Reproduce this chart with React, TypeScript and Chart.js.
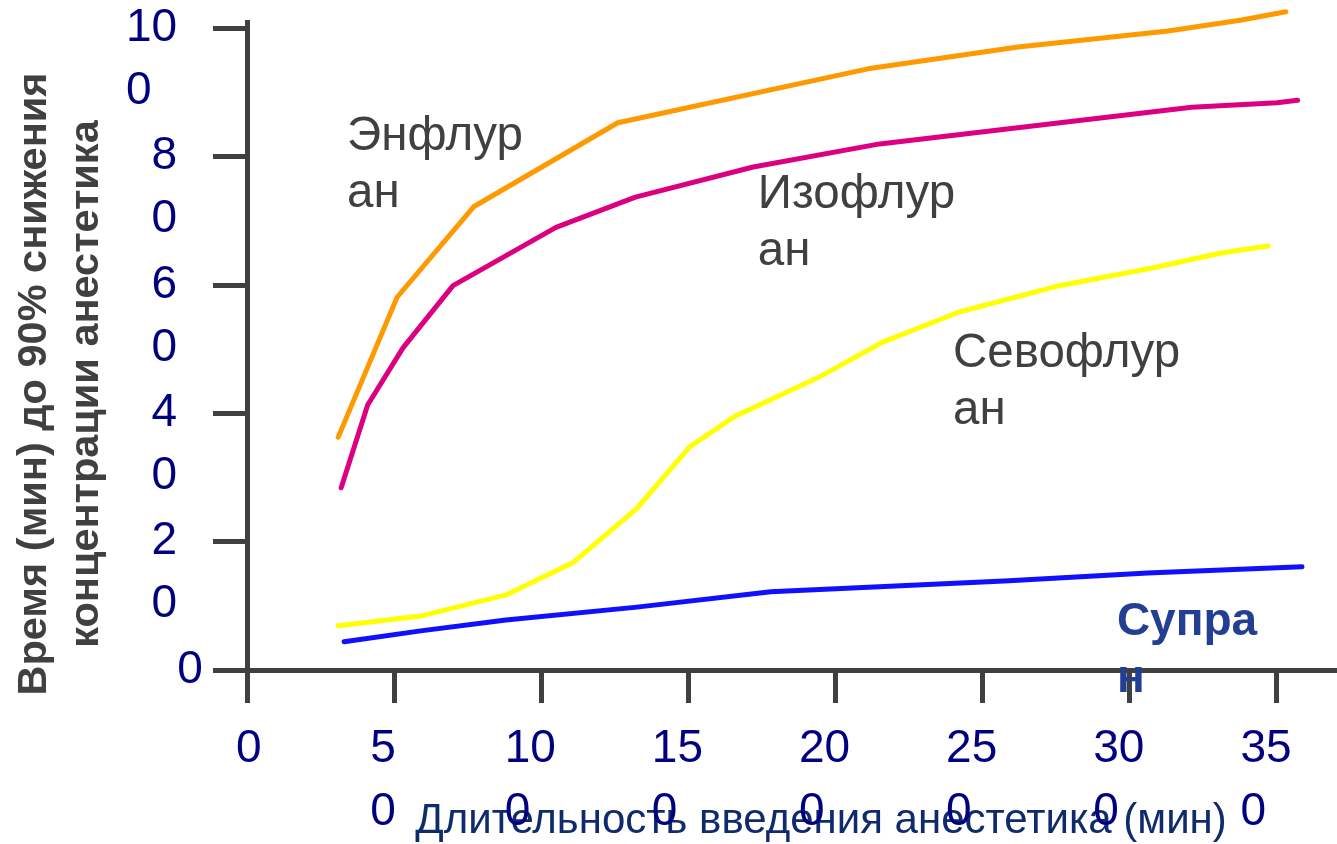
import React, { useEffect, useRef } from "react";
import { Chart, registerables } from "chart.js";

Chart.register(...registerables);

// ---------- data ----------
const xTickValues = [0, 50, 100, 150, 200, 250, 300, 350];
const xTickLabels = ["0", "50", "100", "150", "200", "250", "300", "350"];
const yTickValues = [0, 20, 40, 60, 80, 100];
const yTickLabels = ["0", "20", "40", "60", "80", "100"];

const enfluraneX = [31, 51, 77, 126, 211, 262, 313, 338, 353];
const enfluraneY = [36.3, 58.1, 72.2, 85.3, 93.7, 97.1, 99.6, 101.3, 102.6];

const isofluraneX = [32, 41, 53, 70, 105, 132, 172, 215, 321, 350, 357];
const isofluraneY = [28.4, 41.3, 50.2, 59.9, 69.0, 73.7, 78.4, 82.0, 87.7, 88.4, 88.8];

const sevofluraneX = [31, 59, 88, 111, 132.5, 150.5, 166, 195, 216, 242, 276, 308, 331, 347];
const sevofluraneY = [6.9, 8.4, 11.7, 16.8, 25.2, 34.8, 39.6, 45.8, 51.1, 55.8, 59.9, 62.7, 65.0, 66.1];

const supraneX = [33, 59, 88, 132.5, 178, 259, 306, 358.5];
const supraneY = [4.4, 6.1, 7.8, 9.8, 12.2, 13.9, 15.1, 16.1];

const seriesNames = ["Энфлуран", "Изофлуран", "Севофлуран", "Супран"];
// wrapped as on the slide
const seriesLabelLines = [["Энфлур", "ан"], ["Изофлур", "ан"], ["Севофлур", "ан"], ["Супра", "н"]];
const seriesLabelX = [34, 173.6, 239.9, 295.6];
const seriesLabelY = [81.0, 72.0, 47.2, 5.5];

const xAxisTitle = "Длительность введения анестетика (мин)";
const yAxisTitleLines = ["Время (мин) до 90% снижения", "концентрации анестетика"];

// ---------- styles ----------
const FONT = "'Liberation Sans', Arial, sans-serif";
const AXIS_COLOR = "#404040";
const TICK_COLOR = "#000080";
const SERIES_COLORS = ["#FF9900", "#DC0080", "#FFFF00", "#1010FF"];
const LABEL_COLORS = ["#404040", "#404040", "#404040", "#233F94"];
const LABEL_BOLD = [false, false, false, true];

const FIG = "\u2007";
const splitTick = (s: string): string[] => (s.length > 1 ? [s.slice(0, -1), s.slice(-1)] : [s]);

const toPoints = (xs: number[], ys: number[]) => xs.map((x, i) => ({ x, y: ys[i] }));

const extrasPlugin = {
  id: "extras",
  beforeDraw(chart: any) {
    const { ctx, chartArea } = chart;
    ctx.save();
    // x axis title
    ctx.fillStyle = "#0F2B6C";
    ctx.font = `42px ${FONT}`;
    ctx.textAlign = "center";
    ctx.textBaseline = "alphabetic";
    ctx.fillText(xAxisTitle, chartArea.left + 574, chartArea.bottom + 163);
    // y axis title
    ctx.fillStyle = AXIS_COLOR;
    ctx.font = `bold 41.5px ${FONT}`;
    ctx.translate(35, chartArea.top + 362);
    ctx.rotate(-Math.PI / 2);
    ctx.textBaseline = "middle";
    yAxisTitleLines.forEach((line, i) => ctx.fillText(line, 0, i * 52));
    ctx.restore();
  },
  afterDatasetsDraw(chart: any) {
    const { ctx, scales } = chart;
    ctx.save();
    ctx.textAlign = "left";
    ctx.textBaseline = "alphabetic";
    seriesLabelLines.forEach((lines, i) => {
      const px = scales.x.getPixelForValue(seriesLabelX[i]);
      const py = scales.y.getPixelForValue(seriesLabelY[i]);
      ctx.fillStyle = LABEL_COLORS[i];
      ctx.font = `${LABEL_BOLD[i] ? "bold " : ""}${LABEL_BOLD[i] ? 46 : 47.5}px ${FONT}`;
      lines.forEach((line, j) => ctx.fillText(line, px, py + j * 57));
    });
    ctx.restore();
  },
};

export default function App() {
  const canvasRef = useRef<HTMLCanvasElement | null>(null);

  useEffect(() => {
    if (!canvasRef.current) return;
    const series = [
      toPoints(enfluraneX, enfluraneY),
      toPoints(isofluraneX, isofluraneY),
      toPoints(sevofluraneX, sevofluraneY),
      toPoints(supraneX, supraneY),
    ];
    const chart = new Chart(canvasRef.current, {
      type: "line",
      data: {
        datasets: series.map((data, i) => ({
          label: seriesNames[i],
          data,
          borderColor: SERIES_COLORS[i],
          backgroundColor: SERIES_COLORS[i],
          borderWidth: 5,
          pointRadius: 0,
          pointHoverRadius: 0,
          tension: 0,
          fill: false,
          borderCapStyle: "round",
          borderJoinStyle: "round",
          clip: false,
        })),
      },
      options: {
        responsive: false,
        animation: false,
        devicePixelRatio: 1,
        layout: { padding: { left: 126, top: 22, right: 0, bottom: 0 } },
        plugins: { legend: { display: false }, tooltip: { enabled: false }, title: { display: false } },
        events: [],
        scales: {
          x: {
            type: "linear",
            min: 0,
            max: 370.4,
            afterBuildTicks: (scale: any) => {
              scale.ticks = xTickValues.map((v) => ({ value: v }));
            },
            afterFit: (scale: any) => {
              scale.height = 174;
              scale.paddingLeft = 0;
              scale.paddingRight = 0;
            },
            border: { display: true, color: AXIS_COLOR, width: 5 },
            grid: {
              drawOnChartArea: false,
              drawTicks: true,
              tickLength: 33,
              color: AXIS_COLOR,
              lineWidth: 5,
            },
            ticks: {
              autoSkip: false,
              maxRotation: 0,
              minRotation: 0,
              color: TICK_COLOR,
              font: { family: FONT, size: 46, lineHeight: 1.37 },
              padding: 15,
              labelOffset: -11,
              callback: (_v: any, i: number) => {
                const lines = splitTick(xTickLabels[i]);
                if (lines.length > 1) lines[1] = lines[1] + FIG.repeat(lines[0].length - lines[1].length);
                else lines[0] = FIG + lines[0];
                return lines;
              },
            },
          },
          y: {
            type: "linear",
            min: 0,
            max: 101,
            afterBuildTicks: (scale: any) => {
              scale.ticks = yTickValues.map((v) => ({ value: v }));
            },
            afterFit: (scale: any) => {
              scale.width = 121;
              scale.paddingTop = 0;
              scale.paddingBottom = 0;
            },
            border: { display: true, color: AXIS_COLOR, width: 5 },
            grid: {
              drawOnChartArea: false,
              drawTicks: true,
              tickLength: 34,
              color: AXIS_COLOR,
              lineWidth: 5,
            },
            ticks: {
              autoSkip: false,
              crossAlign: "far",
              color: TICK_COLOR,
              font: { family: FONT, size: 46, lineHeight: 1.37 },
              labelOffset: 31.5,
              callback: (_v: any, i: number) => {
                const s = yTickLabels[i];
                const lines = splitTick(s);
                const pad = FIG.repeat(Math.max(0, 3 - s.length));
                const out = lines.map((l) => pad + l);
                if (out.length < 2) out.push("");
                return out;
              },
            },
          },
        },
      },
      plugins: [extrasPlugin],
    } as any);
    return () => chart.destroy();
  }, []);

  return (
    <div style={{ position: "absolute", left: 0, top: 0, width: 1337, height: 844, background: "#fff" }}>
      <canvas ref={canvasRef} width={1337} height={844} style={{ width: 1337, height: 844, display: "block" }} />
    </div>
  );
}
